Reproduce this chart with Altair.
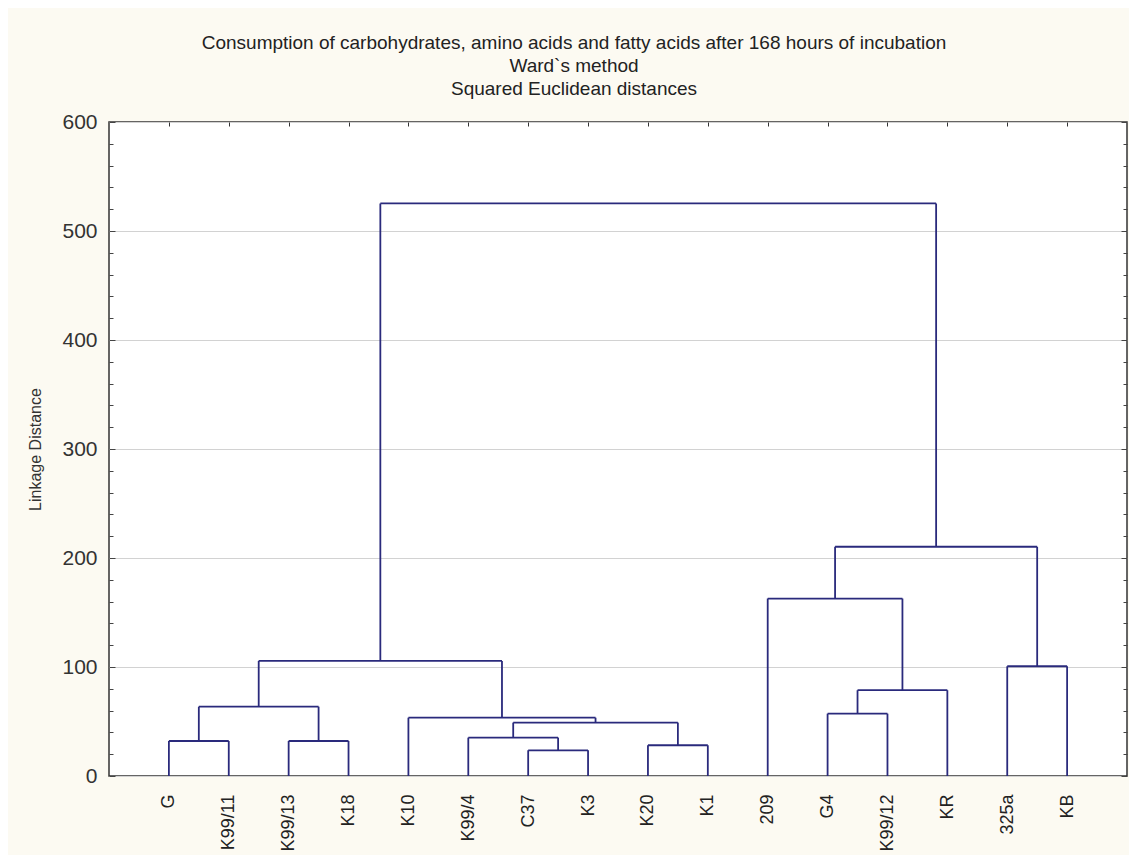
import json
import altair as alt
import pandas as pd

# ---- data -------------------------------------------------------------
leaves = ["G", "K99/11", "K99/13", "K18", "K10", "K99/4", "C37", "K3",
          "K20", "K1", "209", "G4", "K99/12", "KR", "325a", "KB"]

merge_left = ["G", "K99/13", "c1", "C37", "K99/4", "K20", "c5", "K10", "c3",
              "G4", "c10", "209", "325a", "c12", "c9"]
merge_right = ["K99/11", "K18", "c2", "K3", "c4", "K1", "c6", "c7", "c8",
               "K99/12", "KR", "c11", "KB", "c13", "c14"]
merge_height = [32.1, 32.1, 63.6, 23.6, 35.2, 28.2, 49.0, 53.5, 105.6,
                57.2, 78.7, 162.8, 100.7, 210.3, 525.3]

y_ticks = [0, 100, 200, 300, 400, 500, 600]
title_lines = ["Consumption of carbohydrates, amino acids and fatty acids after 168 hours of incubation",
               "Ward`s method",
               "Squared Euclidean distances"]

# ---- dendrogram segments (built from the merge table) ------------------
pos = {name: i + 1 for i, name in enumerate(leaves)}
hgt = {name: 0.0 for name in leaves}
rows = []
for i, (l, r, h) in enumerate(zip(merge_left, merge_right, merge_height)):
    xl, xr = pos[l], pos[r]
    rows.append({"x": xl, "x2": xl, "y": hgt[l], "y2": h})
    rows.append({"x": xr, "x2": xr, "y": hgt[r], "y2": h})
    rows.append({"x": xl, "x2": xr, "y": h, "y2": h})
    name = "c%d" % (i + 1)
    pos[name] = (xl + xr) / 2.0
    hgt[name] = h
seg = pd.DataFrame(rows)

W, H = 1018, 654
FONT = "Liberation Sans"
LINE = "#2a2a7c"

xscale = alt.Scale(domain=[0, len(leaves) + 1], nice=False, zero=False)
yscale = alt.Scale(domain=[0, 600], nice=False)
label_expr = json.dumps(leaves) + "[datum.value - 1]"
leaf_pos = list(range(1, len(leaves) + 1))

lines = alt.Chart(seg).mark_rule(color=LINE, strokeWidth=1.8).encode(
    x=alt.X("x:Q", scale=xscale,
            axis=alt.Axis(values=leaf_pos, labelExpr=label_expr, labelAngle=-90,
                          labelFontSize=18, labelPadding=18, labelFont=FONT,
                          labelColor="#222222", ticks=False, domain=False,
                          grid=False, title=None)),
    x2="x2:Q",
    y=alt.Y("y:Q", scale=yscale,
            axis=alt.Axis(values=y_ticks, grid=True, gridColor="#d2d2d2",
                          gridWidth=1, ticks=False, domain=False,
                          labelFontSize=21, labelPadding=12, labelFont=FONT,
                          labelColor="#333333", title="Linkage Distance",
                          titleFontSize=16, titleFontWeight="normal",
                          titleFont=FONT, titleColor="#333333",
                          titlePadding=18)),
    y2="y2:Q",
)

minor = list(range(0, 601, 20))
tick_size = {"condition": {"test": "datum.value % 100 === 0", "value": 6}, "value": 4}

ticks_a = alt.Chart(seg).mark_point(opacity=0).encode(
    x=alt.X("x:Q", scale=xscale,
            axis=alt.Axis(orient="bottom", offset=-H, values=leaf_pos, labels=False,
                          domain=False, grid=False, tickSize=4, tickColor="#333333",
                          title=None)),
    y=alt.Y("y:Q", scale=yscale,
            axis=alt.Axis(orient="right", offset=-W, values=minor, labels=False,
                          domain=False, grid=False, tickSize=tick_size,
                          tickColor="#444444", title=None)),
)
ticks_b = alt.Chart(seg).mark_point(opacity=0).encode(
    y=alt.Y("y:Q", scale=yscale,
            axis=alt.Axis(orient="left", offset=-W, values=minor, labels=False,
                          domain=False, grid=False, tickSize=tick_size,
                          tickColor="#444444", title=None)),
)

chart = alt.layer(lines, ticks_a, ticks_b).resolve_axis(
    x="independent", y="independent"
).properties(
    width=W, height=H,
    autosize=alt.AutoSizeParams(type="none"),
    padding={"left": 101, "top": 114, "right": 2, "bottom": 79},
    background="#fcfaf2",
    title=alt.TitleParams(text=title_lines, fontSize=19, font=FONT,
                          fontWeight="normal", color="#222222", anchor="middle",
                          lineHeight=23, offset=12, dx=-44),
).configure_view(
    fill="#ffffff", stroke="#333333", strokeWidth=1.5
)

chart.save("out.html", embed_options={"renderer": "svg", "actions": False})
